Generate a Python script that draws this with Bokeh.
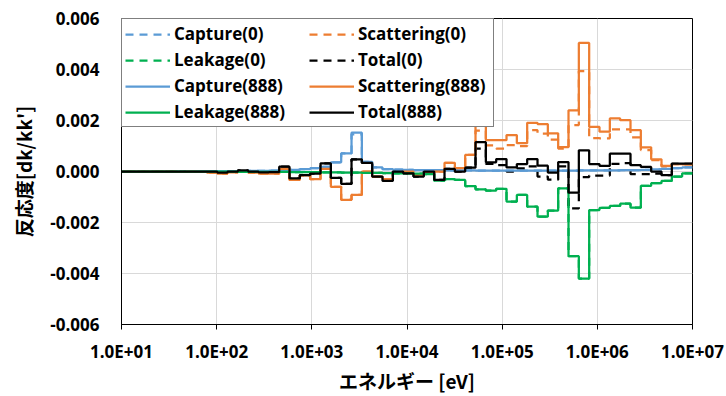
from bokeh.plotting import figure
from bokeh.models import Range1d, FixedTicker, CustomJSTickFormatter, NumeralTickFormatter, Legend, LegendItem
from bokeh.embed import file_html
from bokeh.resources import INLINE

# Group boundaries [eV] (0.25 lethargy groups, descending from 10 MeV)
group_bounds = [
    1.0000e7, 7.7880e6, 6.0653e6, 4.7237e6, 3.6788e6, 2.8650e6, 2.2313e6, 1.7377e6,
    1.3534e6, 1.0540e6, 8.2085e5, 6.3928e5, 4.9787e5, 3.8774e5, 3.0197e5, 2.3518e5,
    1.8316e5, 1.4264e5, 1.1109e5, 8.6517e4, 6.7379e4, 5.2475e4, 4.0868e4, 3.1828e4,
    2.4788e4, 1.9305e4, 1.5034e4, 1.1709e4, 9.1188e3, 7.1017e3, 5.5308e3, 4.3074e3,
    3.3546e3, 2.6126e3, 2.0347e3, 1.5846e3, 1.2341e3, 9.6112e2, 7.4852e2, 5.8295e2,
    4.5400e2, 3.5357e2, 2.7536e2, 2.1445e2, 1.6702e2, 1.3007e2, 1.0130e2, 7.8893e1,
    6.1442e1, 4.7851e1, 3.7267e1, 2.9023e1, 2.2603e1, 1.7603e1, 1.3710e1, 1.0677e1,
    8.3153,
]

capture_888 = [
    0.00016, 0.00013, 0.00010, 0.00008, 0.00006, 0.00005, 0.00005, 0.00004,
    0.00004, 0.00004, 0.00004, 0.00003, 0.00003, 0.00003, 0.00003, 0.00003,
    0.00003, 0.00003, 0.00003, 0.00003, 0.00003, 0.00004, 0.00004, 0.00004,
    0.00005, 0.00005, 0.00005, 0.00006, 0.00007, 0.00009, 0.00016, 0.00038,
    0.00152, 0.00071, 0.00036, 0.00018, 0.00013, 0.00009, 0.00006, 0.00005,
    0.00003, 0.00002, 0.00002, 0.00001, 0.00001, 0.00001, 0.00001, 0.00001,
    0.00001, 0.00000, 0.00000, 0.00000, 0.00000, 0.00000, 0.00000, 0.00000,
]
capture_0 = [
    0.00016, 0.00013, 0.00010, 0.00008, 0.00006, 0.00005, 0.00005, 0.00004,
    0.00004, 0.00004, 0.00004, 0.00003, 0.00003, 0.00003, 0.00003, 0.00003,
    0.00003, 0.00003, 0.00003, 0.00003, 0.00003, 0.00004, 0.00004, 0.00004,
    0.00005, 0.00005, 0.00005, 0.00006, 0.00007, 0.00009, 0.00016, 0.00038,
    0.00146, 0.00071, 0.00036, 0.00018, 0.00013, 0.00009, 0.00006, 0.00005,
    0.00003, 0.00002, 0.00002, 0.00001, 0.00001, 0.00001, 0.00001, 0.00001,
    0.00001, 0.00000, 0.00000, 0.00000, 0.00000, 0.00000, 0.00000, 0.00000,
]
scattering_888 = [
    0.00028, 0.00029, 0.00022, 0.00048, 0.00095, 0.00162, 0.00201, 0.00208,
    0.00156, 0.00175, 0.00504, 0.00240, 0.00096, 0.00150, 0.00186, 0.00191,
    0.00111, 0.00143, 0.00123, 0.00123, 0.00182, 0.00065, 0.00013, 0.00034,
    0.00000, -0.00003, -0.00012, 0.00000, -0.00002, -0.00030, -0.00020, 0.00000,
    -0.00092, -0.00111, -0.00060, 0.00010, -0.00030, -0.00015, -0.00033, 0.00010,
    -0.00008, -0.00008, -0.00004, 0.00000, -0.00003, -0.00008, -0.00004, -0.00001,
    0.00000, -0.00001, 0.00000, 0.00000, 0.00000, 0.00000, 0.00000, 0.00000,
]
scattering_0 = [
    0.00028, 0.00029, 0.00020, 0.00045, 0.00084, 0.00134, 0.00165, 0.00165,
    0.00130, 0.00131, 0.00394, 0.00182, 0.00090, 0.00125, 0.00149, 0.00162,
    0.00100, 0.00103, 0.00090, 0.00102, 0.00160, 0.00065, 0.00013, 0.00034,
    0.00000, -0.00003, -0.00012, 0.00000, -0.00002, -0.00030, -0.00020, 0.00000,
    -0.00092, -0.00111, -0.00060, 0.00010, -0.00030, -0.00015, -0.00033, 0.00010,
    -0.00008, -0.00008, -0.00004, 0.00000, -0.00003, -0.00008, -0.00004, -0.00001,
    0.00000, -0.00001, 0.00000, 0.00000, 0.00000, 0.00000, 0.00000, 0.00000,
]
leakage_888 = [
    -0.00007, -0.00020, -0.00037, -0.00046, -0.00056, -0.00142, -0.00126, -0.00135,
    -0.00143, -0.00151, -0.00420, -0.00332, -0.00066, -0.00153, -0.00177, -0.00138,
    -0.00092, -0.00118, -0.00068, -0.00075, -0.00070, -0.00057, -0.00033, -0.00030,
    -0.00036, -0.00010, -0.00008, -0.00007, -0.00007, -0.00006, -0.00005, -0.00005,
    -0.00004, -0.00004, -0.00003, -0.00003, -0.00002, -0.00002, -0.00002, -0.00001,
    -0.00001, -0.00001, -0.00001, -0.00001, 0.00000, 0.00000, 0.00000, 0.00000,
    0.00000, 0.00000, 0.00000, 0.00000, 0.00000, 0.00000, 0.00000, 0.00000,
]
leakage_0 = list(leakage_888)
total_888 = [
    0.00031, 0.00031, -0.00014, 0.00000, 0.00018, 0.00025, 0.00070, 0.00070,
    0.00022, 0.00029, 0.00083, -0.00083, 0.00037, -0.00004, 0.00023, 0.00049,
    0.00029, 0.00016, 0.00049, 0.00036, 0.00115, 0.00015, 0.00000, 0.00010,
    -0.00033, 0.00000, -0.00020, -0.00007, 0.00000, -0.00037, -0.00020, 0.00034,
    0.00048, -0.00049, -0.00025, 0.00032, -0.00008, -0.00014, -0.00027, 0.00019,
    -0.00002, -0.00003, 0.00000, 0.00004, 0.00000, -0.00004, 0.00000, 0.00000,
    0.00000, 0.00000, 0.00000, 0.00000, 0.00000, 0.00000, 0.00000, 0.00000,
]
total_0 = [
    0.00030, 0.00030, -0.00014, -0.00008, -0.00010, -0.00010, 0.00033, 0.00030,
    -0.00016, -0.00016, -0.00022, -0.00145, 0.00020, -0.00032, -0.00020, 0.00020,
    0.00012, 0.00000, 0.00025, 0.00030, 0.00090, 0.00015, 0.00000, 0.00010,
    -0.00033, 0.00000, -0.00020, -0.00007, 0.00000, -0.00037, -0.00020, 0.00034,
    0.00048, -0.00049, -0.00025, 0.00032, -0.00008, -0.00014, -0.00027, 0.00019,
    -0.00002, -0.00003, 0.00000, 0.00004, 0.00000, -0.00004, 0.00000, 0.00000,
    0.00000, 0.00000, 0.00000, 0.00000, 0.00000, 0.00000, 0.00000, 0.00000,
]

x_ticks = [1e1, 1e2, 1e3, 1e4, 1e5, 1e6, 1e7]
y_ticks = [-0.006, -0.004, -0.002, 0.0, 0.002, 0.004, 0.006]

series = [
    ("Capture(0)", capture_0, "#5B9BD5", "dashed"),
    ("Scattering(0)", scattering_0, "#ED7D31", "dashed"),
    ("Leakage(0)", leakage_0, "#00B050", "dashed"),
    ("Total(0)", total_0, "#000000", "dashed"),
    ("Capture(888)", capture_888, "#5B9BD5", "solid"),
    ("Scattering(888)", scattering_888, "#ED7D31", "solid"),
    ("Leakage(888)", leakage_888, "#00B050", "solid"),
    ("Total(888)", total_888, "#000000", "solid"),
]


def steps(vals):
    xs, ys = [], []
    for k, v in enumerate(vals):
        xs += [group_bounds[k], group_bounds[k + 1]]
        ys += [v, v]
    return xs, ys


p = figure(width=726, height=396, x_axis_type="log", output_backend="svg",
           toolbar_location=None,
           x_range=Range1d(10, 1e7), y_range=Range1d(-0.006, 0.006),
           min_border_left=121, min_border_right=34, min_border_top=18, min_border_bottom=71)

p.outline_line_color = "black"
p.outline_line_width = 1
p.background_fill_color = "white"
p.border_fill_color = "white"

renderers = {}
for name, vals, color, dash in series:
    xs, ys = steps(vals)
    r = p.line(xs, ys, line_color=color, line_width=2.25,
               line_dash="8 6" if dash == "dashed" else "solid")
    renderers[name] = r

# axes
p.xaxis.ticker = FixedTicker(ticks=x_ticks)
p.xaxis.formatter = CustomJSTickFormatter(code="""
    const e = Math.round(Math.log10(tick));
    return "1.0E+" + (e < 10 ? "0" : "") + e;
""")
p.yaxis.ticker = FixedTicker(ticks=y_ticks)
p.yaxis.formatter = NumeralTickFormatter(format="0.000")

for ax in (p.xaxis[0], p.yaxis[0]):
    ax.axis_line_color = "black"
    ax.axis_line_width = 1
    ax.minor_tick_line_color = None
    ax.major_label_text_font = "Open Sans"
    ax.major_label_text_font_style = "bold"
    ax.major_label_text_font_size = "17px"
    ax.major_label_text_color = "black"
    ax.axis_label_text_font = "Noto Sans CJK JP"
    ax.axis_label_text_font_style = "bold"
    ax.axis_label_text_font_size = "19px"
    ax.axis_label_text_color = "black"

p.xaxis.major_tick_out = 5
p.xaxis.major_tick_in = 0
p.xaxis.major_tick_line_color = "black"
p.xaxis.major_label_standoff = 10
p.xaxis.axis_label = "エネルギー [eV]"
p.xaxis.axis_label_standoff = 1

p.yaxis.major_tick_out = 0
p.yaxis.major_tick_in = 0
p.yaxis.major_label_standoff = 22
p.yaxis.axis_label = "反応度[dk/kk']"
p.yaxis.axis_label_standoff = 10

p.xgrid.grid_line_color = "#D9D9D9"
p.ygrid.grid_line_color = "#D9D9D9"
p.xgrid.grid_line_width = 1
p.ygrid.grid_line_width = 1

order = ["Capture(0)", "Leakage(0)", "Capture(888)", "Leakage(888)",
         "Scattering(0)", "Total(0)", "Scattering(888)", "Total(888)"]
legend = Legend(items=[LegendItem(label=n, renderers=[renderers[n]]) for n in order],
                location="top_left", ncols=2)
legend.border_line_color = "black"
legend.border_line_width = 1
legend.background_fill_color = "white"
legend.background_fill_alpha = 1
legend.label_text_font = "Open Sans"
legend.label_text_font_style = "bold"
legend.label_text_font_size = "17px"
legend.label_text_color = "black"
legend.glyph_width = 45
legend.glyph_height = 18
legend.label_height = 18
legend.label_width = 132
legend.label_standoff = 4
legend.spacing = 3
legend.padding = 3
legend.margin = 0
p.add_layout(legend)

open("out.html", "w").write(file_html(p, INLINE))
